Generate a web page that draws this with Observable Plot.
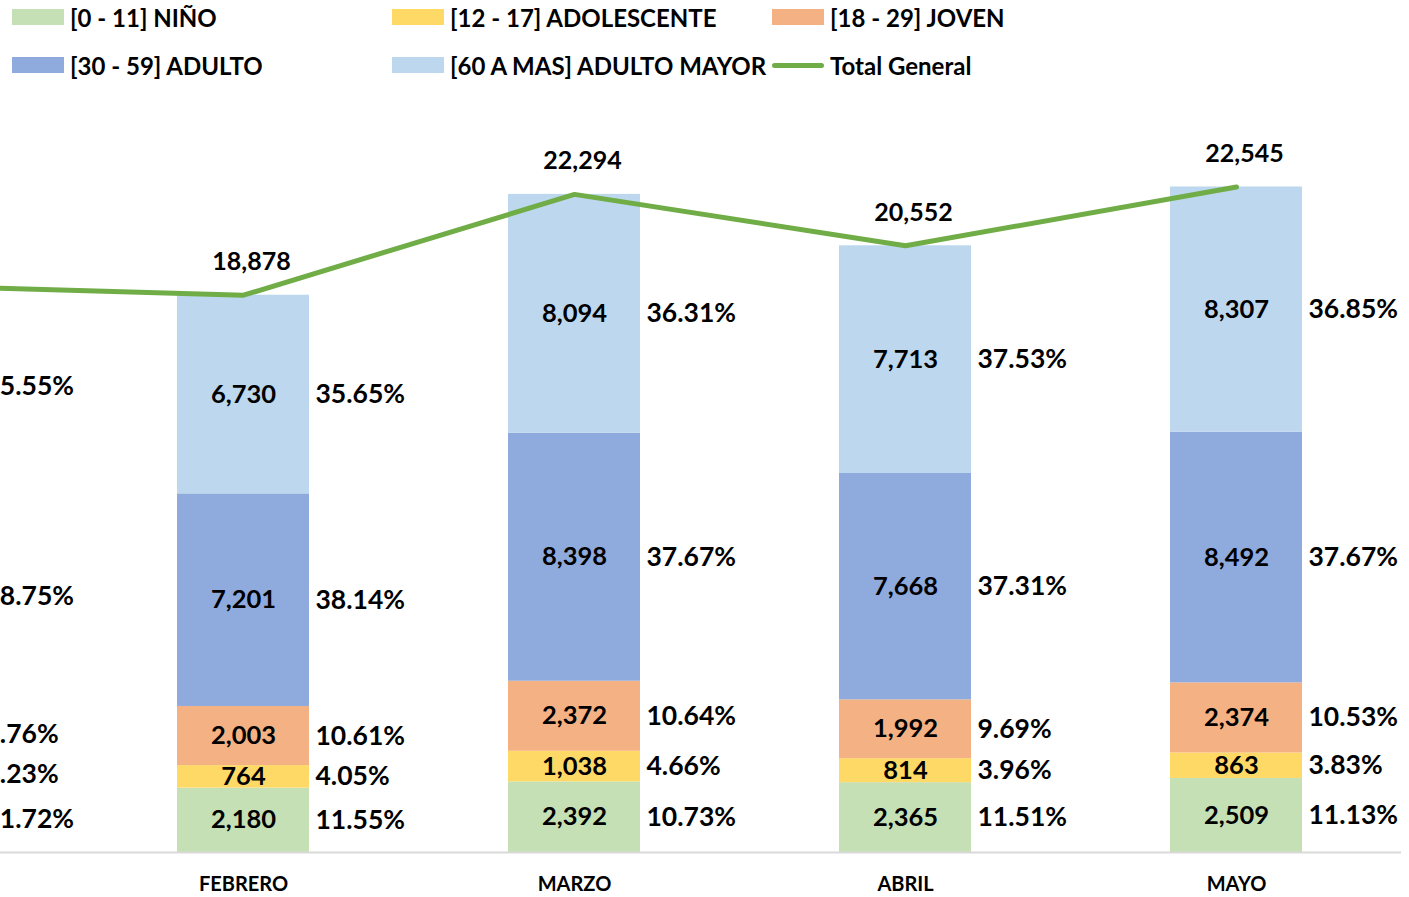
<!DOCTYPE html>
<html>
<head>
<meta charset="utf-8">
<script src="https://cdn.jsdelivr.net/npm/d3@7"></script>
<script src="https://cdn.jsdelivr.net/npm/@observablehq/plot@0.6"></script>
<style>
  html, body { margin: 0; padding: 0; background: #fff; overflow: hidden; }
  body { font-family: Lato, "Open Sans", sans-serif; width: 1409px; }
  #legend { position: relative; height: 90px; width: 1409px; }
  .item { position: absolute; display: flex; align-items: center; font-weight: bold; font-size: 24px; color: #000; white-space: nowrap; }
  .sw { width: 52px; height: 16px; margin-right: 6px; }
  .ln { width: 52px; height: 5px; border-radius: 3px; margin-right: 6px; }
  #chart svg { display: block; }
</style>
</head>
<body>
<div id="legend"></div>
<div id="chart"></div>
<script>
// ---- data ----
const months = ["ENERO", "FEBRERO", "MARZO", "ABRIL", "MAYO"];
const groups = ["[0 - 11] NIÑO", "[12 - 17] ADOLESCENTE", "[18 - 29] JOVEN", "[30 - 59] ADULTO", "[60 A MAS] ADULTO MAYOR"];
const groupColors = ["#C5E0B4", "#FFD966", "#F4B183", "#8FAADC", "#BDD7EE"];
const lineLabel = "Total General";
const lineColor = "#70AD47";

const nino        = [2250, 2180, 2392, 2365, 2509];
const adolescente = [812, 764, 1038, 814, 863];
const joven       = [1874, 2003, 2372, 1992, 2374];
const adulto      = [7440, 7201, 8398, 7668, 8492];
const adultoMayor = [6826, 6730, 8094, 7713, 8307];
const totals      = [19202, 18878, 22294, 20552, 22545];

const pctNino        = ["11.72%", "11.55%", "10.73%", "11.51%", "11.13%"];
const pctAdolescente = ["4.23%", "4.05%", "4.66%", "3.96%", "3.83%"];
const pctJoven       = ["9.76%", "10.61%", "10.64%", "9.69%", "10.53%"];
const pctAdulto      = ["38.75%", "38.14%", "37.67%", "37.31%", "37.67%"];
const pctAdultoMayor = ["35.55%", "35.65%", "36.31%", "37.53%", "36.85%"];

// ---- build tables ----
const series = [nino, adolescente, joven, adulto, adultoMayor];
const pcts = [pctNino, pctAdolescente, pctJoven, pctAdulto, pctAdultoMayor];
const rows = [];
months.forEach((m, i) => {
  groups.forEach((g, j) => {
    rows.push({month: m, group: g, value: series[j][i], pct: pcts[j][i]});
  });
});
const totalRows = months.map((m, i) => ({month: m, total: totals[i]}));

// ---- legend ----
const legend = document.getElementById("legend");
const legendItems = [
  {label: groups[0], color: groupColors[0], x: 12, y: 17},
  {label: groups[1], color: groupColors[1], x: 392, y: 17},
  {label: groups[2], color: groupColors[2], x: 772, y: 17},
  {label: groups[3], color: groupColors[3], x: 12, y: 65},
  {label: groups[4], color: groupColors[4], x: 392, y: 65},
  {label: lineLabel, color: lineColor, x: 772, y: 65, line: true}
];
legendItems.forEach(it => {
  const d = document.createElement("div");
  d.className = "item";
  d.style.left = it.x + "px";
  d.style.top = (it.y - 15) + "px";
  d.style.height = "30px";
  const s = document.createElement("span");
  s.className = it.line ? "ln" : "sw";
  s.style.background = it.color;
  d.appendChild(s);
  const t = document.createElement("span");
  t.textContent = it.label;
  d.appendChild(t);
  legend.appendChild(d);
});

// ---- chart ----
const fmt = d3.format(",");
const font = "Lato, 'Open Sans', sans-serif";
const chart = Plot.plot({
  width: 1409,
  height: 807,
  marginTop: 24,
  marginBottom: 45,
  marginLeft: 0,
  marginRight: 8,
  style: {fontFamily: font, color: "#000", background: "#fff"},
  x: {type: "band", domain: months, range: [-253.5, 1401.5], paddingInner: 0.6, paddingOuter: 0.3, label: null},
  y: {domain: [0, 25000], axis: null},
  color: {domain: groups, range: groupColors},
  marks: [
    Plot.barY(rows, {x: "month", y: "value", fill: "group", order: groups}),
    Plot.ruleY([0], {stroke: "#d9d9d9", strokeWidth: 2}),
    Plot.axisX({tickSize: 0, tickPadding: 24, fontSize: 20, fontWeight: "bold", label: null}),
    Plot.text(rows, Plot.stackY({x: "month", y: "value", z: "group", order: groups,
      text: d => fmt(d.value), fontSize: 25.5, fontWeight: "bold", fill: "#000"})),
    Plot.text(rows, Plot.stackY({x: "month", y: "value", z: "group", order: groups,
      text: "pct", textAnchor: "start", dx: 72, fontSize: 26.5, fontWeight: "bold", fill: "#000"})),
    Plot.line(totalRows, {x: "month", y: "total", stroke: lineColor, strokeWidth: 5}),
    Plot.text(totalRows, {x: "month", y: "total", text: d => fmt(d.total), dy: -33, dx: 8,
      fontSize: 25, fontWeight: "bold", fill: "#000"})
  ]
});
document.getElementById("chart").appendChild(chart);
</script>
</body>
</html>
